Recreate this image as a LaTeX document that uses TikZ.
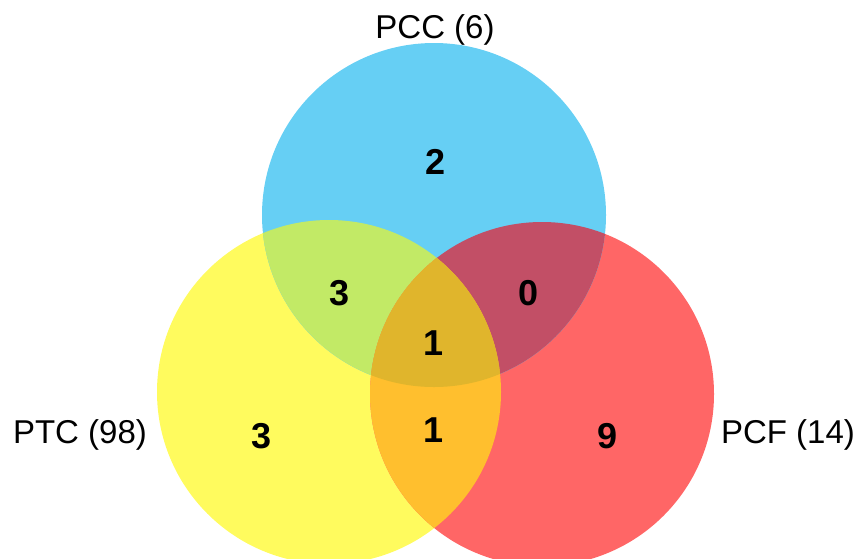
\documentclass[tikz,border=0pt]{standalone}
\usepackage{fontspec}
\setmainfont{Liberation Sans}
\definecolor{cblue}{HTML}{66CFF4}
\definecolor{cyellow}{HTML}{FFFB5E}
\definecolor{cred}{HTML}{FF6666}
\definecolor{cby}{HTML}{C2EA66}
\definecolor{cbr}{HTML}{C24F66}
\definecolor{cyr}{HTML}{FFBF2E}
\definecolor{call}{HTML}{E0B52C}
\tikzset{
  setlabel/.style={font=\fontsize{33}{37}\selectfont, text=black},
  count/.style={font=\fontsize{36}{40}\selectfont\bfseries, text=black},
}
\begin{document}
\begin{tikzpicture}[x=1pt,y=-1pt]
\useasboundingbox (0,0) rectangle (858,558);
\begin{scope}
\clip (0,0) rectangle (858,558);
\def\Cb{(434,215) circle (172)}
\def\Cy{(329,392) circle (172)}
\def\Cr{(542,394) circle (172)}
\fill[cyellow] \Cy;
\fill[cred] \Cr;
\fill[cblue] \Cb;
\begin{scope}\clip \Cb; \fill[cby] \Cy; \end{scope}
\begin{scope}\clip \Cb; \fill[cbr] \Cr; \end{scope}
\begin{scope}\clip \Cy; \fill[cyr] \Cr; \end{scope}
\begin{scope}\clip \Cb; \clip \Cy; \fill[call] \Cr; \end{scope}
\end{scope}
\node[setlabel] (pcc) at (435,30) {PCC (6)};
\node[setlabel] (ptc) at (80,435) {PTC (98)};
\node[setlabel] (pcf) at (788,435) {PCF (14)};
\node[count] (n2) at (436,162) {2};
\node[count] (n3a) at (340,293) {3};
\node[count] (n0) at (529,293) {0};
\node[count] (n1a) at (434,343) {1};
\node[count] (n1b) at (434,430) {1};
\node[count] (n3b) at (262,436) {3};
\node[count] (n9) at (607,436) {9};
\end{tikzpicture}
\end{document}
